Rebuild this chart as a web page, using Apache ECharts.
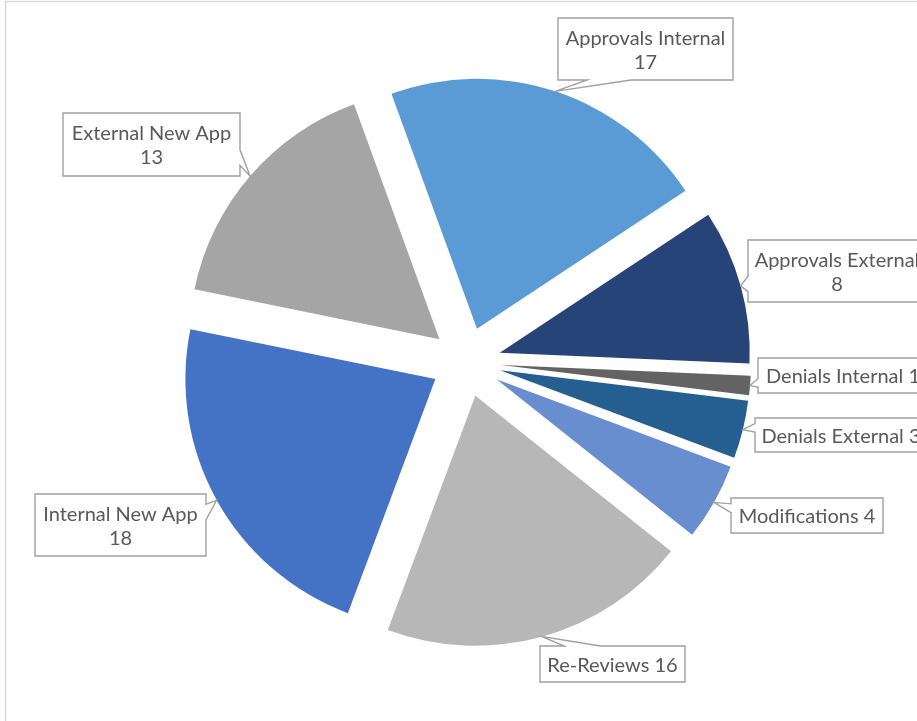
<!DOCTYPE html>
<html>
<head>
<meta charset="utf-8">
<script src="https://cdn.jsdelivr.net/npm/echarts@6/dist/echarts.min.js"></script>
<style>html,body{margin:0;padding:0;background:#fff;}#c{width:917px;height:721px;}</style>
</head>
<body>
<div id="c"></div>
<script>
var categories = ['Approvals Internal', 'Approvals External', 'Denials Internal', 'Denials External', 'Modifications', 'Re-Reviews', 'Internal New App', 'External New App'];
var values = [17, 8, 1, 3, 4, 16, 18, 13];
var twoLine = [true, true, false, false, false, false, true, true];

var colors = ['#5B9BD5', '#264478', '#636363', '#255E91', '#698ED0', '#B7B7B7', '#4472C4', '#A5A5A5'];
// callout boxes (layout only): [left, top, width, height]
var boxes = [[558, 18, 175, 62], [748, 240, 178, 62], [758, 358, 170, 35], [755, 418, 172, 34],
             [731, 498, 152, 35], [540, 646, 145, 36], [35, 494, 171, 62], [63, 113, 177, 63]];

var CENTER = [466, 362], RADIUS = 250, EXPLODE = 35, START = 110;

var chart = echarts.init(document.getElementById('c'));
var data = categories.map(function (n, i) {
  return { name: n, value: values[i], selected: true, itemStyle: { color: colors[i] } };
});
chart.setOption({
  animation: false,
  series: [{
    type: 'pie',
    center: CENTER,
    radius: [0, RADIUS],
    startAngle: START,
    clockwise: true,
    selectedMode: 'multiple',
    selectedOffset: EXPLODE,
    avoidLabelOverlap: false,
    data: data,
    itemStyle: { borderWidth: 0 },
    emphasis: { disabled: true },
    select: { itemStyle: { borderWidth: 0 } },
    label: { show: false },
    labelLine: { show: false }
  }]
});

// Excel-style wedge rectangle callout
function calloutPoints(l, t, w, h, tx, ty) {
  var r = l + w, b = t + h, hc = l + w / 2, vc = t + h / 2;
  var dxPos = tx - hc, dyPos = ty - vc;
  var dq = dxPos * h / w;
  var dz = Math.abs(dyPos) - Math.abs(dq);
  var x1 = l + w * (dxPos > 0 ? 7 : 2) / 12, x2 = l + w * (dxPos > 0 ? 10 : 5) / 12;
  var y1 = t + h * (dyPos > 0 ? 7 : 2) / 12, y2 = t + h * (dyPos > 0 ? 10 : 5) / 12;
  var xt = dz > 0 ? (dyPos > 0 ? x1 : tx) : x1, yt = dz > 0 ? (dyPos > 0 ? t : ty) : t;
  var xr = dz > 0 ? r : (dxPos > 0 ? tx : r), yr = dz > 0 ? y1 : (dxPos > 0 ? ty : y1);
  var xb = dz > 0 ? (dyPos > 0 ? tx : x1) : x1, yb = dz > 0 ? (dyPos > 0 ? ty : b) : b;
  var xl = dz > 0 ? l : (dxPos > 0 ? l : tx), yl = dz > 0 ? y1 : (dxPos > 0 ? y1 : ty);
  return [[l, t], [x1, t], [xt, yt], [x2, t], [r, t], [r, y1], [xr, yr], [r, y2], [r, b],
          [x2, b], [xb, yb], [x1, b], [l, b], [l, y2], [xl, yl], [l, y1]];
}

function sliceLayout(i) {
  try {
    var d = chart.getModel().getSeriesByIndex(0).getData();
    var L = d.getItemLayout(i);
    if (L && isFinite(L.cx) && isFinite(L.startAngle)) return L;
  } catch (e) {}
  // fallback: same maths as the pie layout
  var total = values.reduce(function (a, b) { return a + b; }, 0);
  var a = -START * Math.PI / 180;
  for (var k = 0; k < i; k++) a += values[k] / total * Math.PI * 2;
  return { cx: CENTER[0], cy: CENTER[1], r: RADIUS, startAngle: a, endAngle: a + values[i] / total * Math.PI * 2 };
}

var graphics = [{
  id: 'frame', type: 'rect', silent: true, z: -10,
  shape: { x: 5.5, y: 1.5, width: 1200, height: 1200 },
  style: { fill: 'none', stroke: '#D9D9D9', lineWidth: 1.5 }
}];
categories.forEach(function (name, i) {
  var L = sliceLayout(i);
  var mid = (L.startAngle + L.endAngle) / 2;
  var cx = L.cx + Math.cos(mid) * EXPLODE, cy = L.cy + Math.sin(mid) * EXPLODE;
  var tx = cx + Math.cos(mid) * L.r, ty = cy + Math.sin(mid) * L.r;
  var bx = boxes[i];
  graphics.push({
    id: 'box' + i, type: 'polygon', silent: true, z: 20,
    shape: { points: calloutPoints(bx[0], bx[1], bx[2], bx[3], tx, ty) },
    style: { fill: '#FFFFFF', stroke: '#A0A0A0', lineWidth: 1.4, lineJoin: 'miter' }
  });
  graphics.push({
    id: 'txt' + i, type: 'text', silent: true, z: 21,
    x: bx[0] + bx[2] / 2, y: bx[1] + bx[3] / 2 + 1.5,
    style: {
      text: twoLine[i] ? name + '\n' + values[i] : name + ' ' + values[i],
      fill: '#595959', fontFamily: 'Lato', fontSize: 20, lineHeight: 24,
      align: 'center', verticalAlign: 'middle'
    }
  });
});
chart.setOption({ graphic: graphics });
</script>
</body>
</html>
